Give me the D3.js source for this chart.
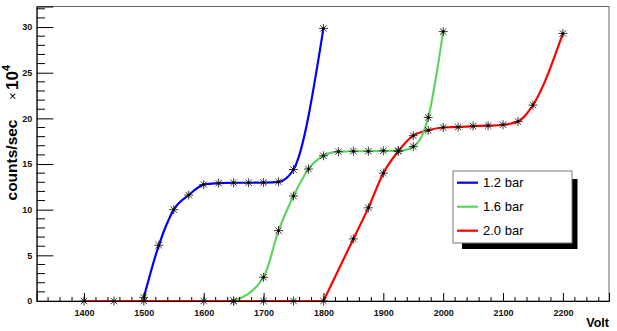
<!DOCTYPE html>
<html>
<head>
<meta charset="utf-8">
<script src="https://cdn.jsdelivr.net/npm/d3@7"></script>
<style>
  body { margin: 0; background: #fff; }
  svg { display: block; font-family: "Liberation Sans", Arial, sans-serif; }
</style>
</head>
<body>
<svg id="chart" width="617" height="331"></svg>
<script>
// plateau curves, counts/sec (x 10^4) vs high voltage
var voltBlue = [1500, 1525, 1550, 1575, 1600, 1625, 1650, 1675, 1700, 1725, 1750, 1800];
var rateBlue = [0.4, 6.1, 10.0, 11.6, 12.75, 12.9, 12.95, 12.95, 12.97, 13.05, 14.4, 29.85];

var voltGreen = [1650, 1700, 1725, 1750, 1775, 1800, 1825, 1850, 1875, 1900, 1925, 1950, 1975, 2000];
var rateGreen = [0, 2.6, 7.7, 11.5, 14.45, 15.9, 16.35, 16.4, 16.4, 16.45, 16.45, 16.9, 20.1, 29.5];

var voltRed = [1400, 1450, 1500, 1600, 1650, 1700, 1750, 1800, 1850, 1875, 1900, 1925, 1950,
               1975, 2000, 2025, 2050, 2075, 2100, 2125, 2150, 2200];
var rateRed = [0, 0, 0, 0, 0, 0, 0, 0, 6.8, 10.2, 14.0, 16.4, 18.1,
               18.7, 19.0, 19.05, 19.15, 19.2, 19.3, 19.65, 21.45, 29.3];

var seriesNames = ["1.2 bar", "1.6 bar", "2.0 bar"];
var seriesColors = ["#0000ff", "#5fd35f", "#ff0000"];

var xTicks = [1400, 1500, 1600, 1700, 1800, 1900, 2000, 2100, 2200];
var yTicks = [0, 5, 10, 15, 20, 25, 30];

var FRAME_L = 36.7, FRAME_R = 609, FRAME_T = 6.5, FRAME_B = 301;

var svg = d3.select("#chart");

var x = d3.scaleLinear().domain([1321, 2277]).range([FRAME_L, FRAME_R]);
var y = d3.scaleLinear().domain([0, 32.25]).range([FRAME_B, FRAME_T]);

// frame
svg.append("rect")
    .attr("x", FRAME_L).attr("y", FRAME_T)
    .attr("width", FRAME_R - FRAME_L).attr("height", FRAME_B - FRAME_T)
    .attr("fill", "none").attr("stroke", "#666").attr("stroke-width", 1);

var plot = svg.append("g");
svg.append("clipPath").attr("id", "clip")
  .append("rect")
    .attr("x", FRAME_L).attr("y", FRAME_T)
    .attr("width", FRAME_R - FRAME_L).attr("height", FRAME_B - FRAME_T);

// x axis: major every 100, minor every 20, ticks pointing up
var xMinor = d3.range(1340, 2277, 20).filter(function(v) { return v % 100 != 0; });
var xAxis = svg.append("g").attr("transform", "translate(0," + FRAME_B + ")")
    .call(d3.axisBottom(x).tickValues(xTicks).tickSize(-8).tickPadding(4)
          .tickFormat(d3.format("d")));
xAxis.select(".domain").attr("stroke", "#000");
xAxis.selectAll(".tick text").attr("y", 9).attr("dy", "0.71em")
    .style("font-size", "9px").style("font-weight", "bold").attr("fill", "#111");
xAxis.selectAll(".tick line").attr("stroke", "#000");
svg.append("g").selectAll("line").data(xMinor).join("line")
    .attr("x1", function(d) { return x(d); }).attr("x2", function(d) { return x(d); })
    .attr("y1", FRAME_B).attr("y2", FRAME_B - 4)
    .attr("stroke", "#000");

// y axis: major every 5, minor every 1, ticks pointing right
var yMinor = d3.range(1, 33, 1).filter(function(v) { return v % 5 != 0; });
var yAxis = svg.append("g").attr("transform", "translate(" + FRAME_L + ",0)")
    .call(d3.axisLeft(y).tickValues(yTicks).tickSize(-16.7).tickPadding(4));
yAxis.select(".domain").attr("stroke", "#000");
yAxis.selectAll(".tick text").attr("x", -4.5)
    .style("font-size", "9px").style("font-weight", "bold").attr("fill", "#111");
yAxis.selectAll(".tick line").attr("stroke", "#000");
svg.append("g").selectAll("line").data(yMinor).join("line")
    .attr("x1", FRAME_L).attr("x2", FRAME_L + 8.3)
    .attr("y1", function(d) { return y(d); }).attr("y2", function(d) { return y(d); })
    .attr("stroke", "#000");

// titles
svg.append("text")
    .attr("x", FRAME_R).attr("y", 327)
    .attr("text-anchor", "end")
    .style("font-size", "12.5px").style("font-weight", "bold")
    .text("Volt");

svg.append("text")
    .attr("transform", "translate(17,160) rotate(-90)")
    .attr("text-anchor", "middle")
    .style("font-size", "15.5px").style("font-weight", "bold")
    .text("counts/sec");

svg.append("text")
    .attr("transform", "translate(17,100) rotate(-90)")
    .style("font-size", "13px")
    .text("\u00d7");
var expo = svg.append("text")
    .attr("transform", "translate(18,90) rotate(-90)")
    .style("font-size", "17px").style("font-weight", "bold");
expo.append("tspan").text("10");
expo.append("tspan").attr("dy", -8).style("font-size", "11px").text("4");

// curves
var series = [
    { volt: voltBlue, rate: rateBlue },
    { volt: voltGreen, rate: rateGreen },
    { volt: voltRed, rate: rateRed }
];
series.forEach(function(s, i) {
    s.pts = s.volt.map(function(v, j) { return [v, s.rate[j]]; });
    s.color = seriesColors[i];
});

var smooth = d3.line()
    .x(function(d) { return x(d[0]); })
    .y(function(d) { return y(d[1]); })
    .curve(d3.curveMonotoneX);
var straight = d3.line()
    .x(function(d) { return x(d[0]); })
    .y(function(d) { return y(d[1]); });

// flat zero stretch drawn straight, the rise starts with a kink (as in the original)
function curvePath(pts) {
    var k = -1;
    pts.forEach(function(p, j) { if (p[1] == 0) k = j; });
    if (k <= 0) return smooth(pts);
    return straight(pts.slice(0, k + 1)) + smooth(pts.slice(k));
}

// blue, red, then green (green sits on top of red where they cross)
[0, 2, 1].forEach(function(i) {
    plot.append("path")
        .attr("d", curvePath(series[i].pts))
        .attr("fill", "none")
        .attr("stroke", series[i].color)
        .attr("stroke-width", 2.2)
        .attr("clip-path", "url(#clip)");
});

// star markers (ROOT style 3)
var star = "M-4.5,0H4.5M0,-4.5V4.5M-3.2,-3.2L3.2,3.2M-3.2,3.2L3.2,-3.2";
series.forEach(function(s) {
    var g = plot.append("g");
    g.selectAll("path").data(s.pts).join("path")
        .attr("transform", function(d) { return "translate(" + x(d[0]) + "," + y(d[1]) + ")"; })
        .attr("d", star)
        .attr("stroke", "#222")
        .attr("stroke-width", 0.9)
        .attr("fill", "none");
    g.selectAll("circle").data(s.pts).join("circle")
        .attr("cx", function(d) { return x(d[0]); })
        .attr("cy", function(d) { return y(d[1]); })
        .attr("r", 1.3)
        .attr("fill", "#000");
});

// legend with drop shadow
var LEG_X = 453, LEG_Y = 171, LEG_W = 119, LEG_H = 72;
var legend = svg.append("g");
legend.append("path")
    .attr("d", "M" + (LEG_X + LEG_W) + "," + (LEG_Y + 8) +
               "H" + (LEG_X + LEG_W + 5.5) + "V" + (LEG_Y + LEG_H + 6) +
               "H" + (LEG_X + 9) + "V" + (LEG_Y + LEG_H) +
               "H" + (LEG_X + LEG_W) + "Z")
    .attr("fill", "#000");
legend.append("rect")
    .attr("x", LEG_X).attr("y", LEG_Y)
    .attr("width", LEG_W).attr("height", LEG_H)
    .attr("fill", "#fff").attr("stroke", "#777").attr("stroke-width", 1);

seriesNames.forEach(function(name, i) {
    var cy = 182.7 + i * 24;
    legend.append("line")
        .attr("x1", 457).attr("x2", 478)
        .attr("y1", cy).attr("y2", cy)
        .attr("stroke", seriesColors[i]).attr("stroke-width", 2.2);
    legend.append("text")
        .attr("x", 483).attr("y", cy + 4.6)
        .style("font-size", "13px")
        .text(name);
});
</script>
</body>
</html>
